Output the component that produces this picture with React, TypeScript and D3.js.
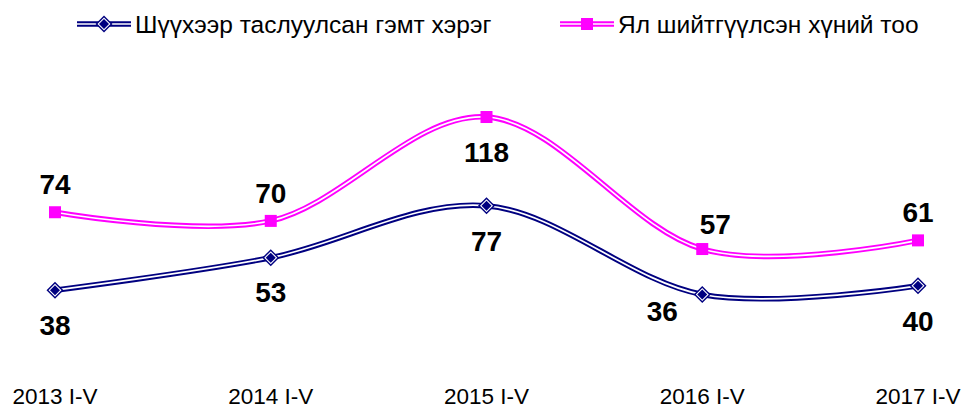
import { useEffect, useRef } from 'react';
import * as d3 from 'd3';

const categories = ['2013 I-V', '2014 I-V', '2015 I-V', '2016 I-V', '2017 I-V'];
const casesSolved = [38, 53, 77, 36, 40];
const personsConvicted = [74, 70, 118, 57, 61];
const seriesNames = ['Шүүхээр таслуулсан гэмт хэрэг', 'Ял шийтгүүлсэн хүний тоо'];
// where each value label sits relative to its point
const casesLabelPos = ['below', 'below', 'below', 'belowLeft', 'below'];
const personsLabelPos = ['above', 'above', 'below', 'aboveRight', 'above'];

const NAVY = '#000080';
const PINK = '#FF00FF';

const App: React.FC = () => {
  const svgRef = useRef<SVGSVGElement>(null);
  const width = 965;
  const height = 410;

  useEffect(() => {
    if (!svgRef.current) return;
    const svg = d3.select(svgRef.current);
    svg.selectAll('*').remove();

    const x = d3.scalePoint<string>()
      .domain(categories)
      .range([55, 918]);

    const y = d3.scaleLinear()
      .domain([0, 140])
      .range([372.4, 69.4]);

    const line = d3.line<number>()
      .x((d, i) => x(categories[i]) as number)
      .y(d => y(d))
      .curve(d3.curveCardinal.tension(0));

    const drawSeries = (values: number[], color: string) => {
      svg.append('path')
        .attr('d', line(values))
        .attr('fill', 'none')
        .attr('stroke', color)
        .attr('stroke-width', 5.5);
      svg.append('path')
        .attr('d', line(values))
        .attr('fill', 'none')
        .attr('stroke', '#fff')
        .attr('stroke-width', 1.7);
    };

    const diamond = (g: d3.Selection<SVGGElement, unknown, null, undefined>, cx: number, cy: number) => {
      g.append('path')
        .attr('d', `M${cx},${cy - 8.5}L${cx + 8.5},${cy}L${cx},${cy + 8.5}L${cx - 8.5},${cy}Z`)
        .attr('fill', NAVY);
      g.append('path')
        .attr('d', `M${cx},${cy - 6.5}L${cx + 6.5},${cy}L${cx},${cy + 6.5}L${cx - 6.5},${cy}Z`)
        .attr('fill', '#fff');
      g.append('path')
        .attr('d', `M${cx},${cy - 5}L${cx + 5},${cy}L${cx},${cy + 5}L${cx - 5},${cy}Z`)
        .attr('fill', NAVY);
    };

    const square = (g: d3.Selection<SVGGElement, unknown, null, undefined>, cx: number, cy: number) => {
      g.append('rect')
        .attr('x', cx - 6)
        .attr('y', cy - 6)
        .attr('width', 12)
        .attr('height', 12)
        .attr('fill', PINK);
    };

    drawSeries(casesSolved, NAVY);
    drawSeries(personsConvicted, PINK);

    const markers = svg.append('g');
    casesSolved.forEach((v, i) => diamond(markers, x(categories[i]) as number, y(v)));
    personsConvicted.forEach((v, i) => square(markers, x(categories[i]) as number, y(v)));

    // value labels
    const labelOffset = (pos: string) => {
      if (pos === 'above') return { dx: 0, dy: -28 };
      if (pos === 'aboveRight') return { dx: 13, dy: -25 };
      if (pos === 'belowLeft') return { dx: -40, dy: 17 };
      return { dx: 0, dy: 35 };
    };

    const addLabels = (values: number[], positions: string[]) => {
      values.forEach((v, i) => {
        const o = labelOffset(positions[i]);
        svg.append('text')
          .attr('x', (x(categories[i]) as number) + o.dx)
          .attr('y', y(v) + o.dy)
          .attr('dy', '0.35em')
          .attr('text-anchor', 'middle')
          .style('font-family', 'Liberation Sans, Arial, sans-serif')
          .style('font-weight', 'bold')
          .style('font-size', '28px')
          .attr('fill', '#000')
          .text(v);
      });
    };
    addLabels(casesSolved, casesLabelPos);
    addLabels(personsConvicted, personsLabelPos);

    // category axis labels
    svg.append('g')
      .selectAll('text')
      .data(categories)
      .enter()
      .append('text')
      .attr('x', d => x(d) as number)
      .attr('y', 404)
      .attr('text-anchor', 'middle')
      .style('font-family', 'Liberation Sans, Arial, sans-serif')
      .style('font-size', '22.5px')
      .attr('fill', '#000')
      .text(d => d);

    // legend
    const legendItems = [
      { name: seriesNames[0], color: NAVY, x0: 77, marker: 'diamond' },
      { name: seriesNames[1], color: PINK, x0: 560, marker: 'square' },
    ];
    legendItems.forEach(item => {
      const ly = 24;
      svg.append('line')
        .attr('x1', item.x0).attr('x2', item.x0 + 54)
        .attr('y1', ly).attr('y2', ly)
        .attr('stroke', item.color).attr('stroke-width', 5.5);
      svg.append('line')
        .attr('x1', item.x0).attr('x2', item.x0 + 54)
        .attr('y1', ly).attr('y2', ly)
        .attr('stroke', '#fff').attr('stroke-width', 1.7);
      const g = svg.append('g');
      if (item.marker === 'diamond') diamond(g, item.x0 + 27, ly);
      else square(g, item.x0 + 27, ly);
      svg.append('text')
        .attr('x', item.x0 + 58)
        .attr('y', ly + 9)
        .style('font-family', 'Liberation Sans, Arial, sans-serif')
        .style('font-size', '24.5px')
        .attr('fill', '#000')
        .text(item.name);
    });
  }, []);

  return (
    <svg
      ref={svgRef}
      width={width}
      height={height}
      style={{ position: 'absolute', left: 0, top: 0, background: '#fff' }}
    />
  );
};

export default App;
